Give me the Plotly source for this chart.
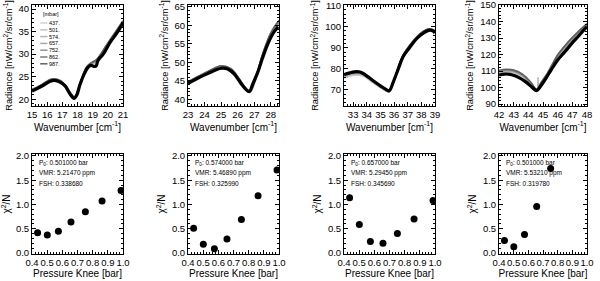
import plotly.graph_objects as go

# ---------------- data ----------------
pressures_mbar = [437, 501, 574, 657, 752, 862, 987]
pressure_labels = ["437.", "501.", "574.", "657.", "752.", "862.", "987."]
model_colors = ["#d2d2d2", "#c4c4c4", "#b6b6b6", "#a8a8a8", "#929292", "#7a7a7a", "#606060"]

# Panel 1 (15-21 cm-1)
wn1_obs = [15.0, 15.3, 15.75, 16.2, 16.5, 16.85, 17.2, 17.5, 17.77, 17.95, 18.15, 18.4, 18.65,
           18.87, 19.08, 19.22, 19.35, 19.7, 20.15, 20.6, 21.0]
rad1_obs = [21.8, 22.3, 23.1, 24.0, 24.2, 23.8, 22.9, 21.2, 20.2, 20.9, 23.1, 25.3, 26.9,
            27.5, 27.3, 27.3, 28.6, 30.0, 32.6, 34.7, 36.9]
wn1_mod = [15.0, 15.6, 16.3, 16.9, 17.4, 17.8, 18.2, 18.6, 18.95, 19.25, 20.0, 21.0]
rad1_mod = [
    [21.6, 22.6, 24.0, 23.6, 21.8, 20.4, 23.4, 26.6, 27.6, 28.3, 31.9, 36.8],
    [21.7, 22.7, 24.1, 23.7, 21.8, 20.3, 23.5, 26.7, 27.7, 28.4, 32.0, 36.9],
    [21.8, 22.8, 24.1, 23.7, 21.7, 20.3, 23.5, 26.8, 27.8, 28.4, 32.1, 37.0],
    [21.9, 22.9, 24.2, 23.8, 21.8, 20.3, 23.6, 26.9, 27.9, 28.5, 32.2, 37.1],
    [22.0, 23.0, 24.3, 23.9, 21.9, 20.4, 23.7, 27.0, 28.0, 28.6, 32.3, 37.2],
    [22.1, 23.1, 24.4, 24.0, 22.0, 20.5, 23.8, 27.1, 28.1, 28.7, 32.4, 37.3],
    [22.2, 23.2, 24.5, 24.1, 22.1, 20.6, 23.9, 27.2, 28.2, 28.8, 32.5, 37.4],
]

# Panel 2 (23-28.5 cm-1)
wn2_obs = [23.0, 23.5, 24.0, 24.5, 25.0, 25.4, 25.8, 26.2, 26.5, 26.7, 26.93, 27.23, 27.5,
           27.84, 28.14, 28.45]
rad2_obs = [44.3, 45.5, 46.6, 47.6, 48.4, 48.2, 46.8, 44.3, 42.7, 42.1, 44.3, 47.5, 51.1,
            55.1, 57.8, 59.6]
wn2_mod = [23.0, 23.6, 24.3, 25.0, 25.6, 26.1, 26.5, 26.75, 27.1, 27.5, 28.0, 28.5]
rad2_mod = [
    [44.2, 45.6, 47.2, 48.5, 47.7, 45.0, 42.6, 41.9, 45.3, 51.0, 56.8, 60.2],
    [44.3, 45.7, 47.3, 48.6, 47.8, 45.1, 42.7, 42.0, 45.4, 51.2, 57.0, 60.4],
    [44.4, 45.8, 47.4, 48.7, 47.9, 45.2, 42.7, 42.0, 45.5, 51.4, 57.2, 60.6],
    [44.5, 45.9, 47.5, 48.8, 48.0, 45.3, 42.8, 42.1, 45.6, 51.6, 57.4, 60.8],
    [44.6, 46.0, 47.6, 48.9, 48.1, 45.4, 42.8, 42.1, 45.8, 51.8, 57.6, 61.0],
    [44.7, 46.1, 47.7, 49.0, 48.2, 45.5, 42.9, 42.2, 45.9, 52.0, 57.8, 61.2],
    [44.8, 46.2, 47.8, 49.1, 48.3, 45.6, 43.0, 42.3, 46.0, 52.2, 58.0, 61.4],
]

# Panel 3 (32.3-39 cm-1)
wn3_obs = [32.34, 32.7, 33.1, 33.5, 33.86, 34.47, 35.08, 35.5, 35.65, 35.94, 36.31, 36.67,
           37.16, 37.65, 38.14, 38.63, 38.87, 39.0]
rad3_obs = [77.3, 78.0, 78.6, 78.5, 77.3, 74.4, 71.6, 69.9, 69.6, 73.7, 80.0, 85.9,
            90.3, 94.3, 97.0, 98.4, 97.9, 97.0]
wn3_mod = [32.34, 33.0, 33.7, 34.4, 35.1, 35.6, 36.0, 36.6, 37.3, 38.0, 38.6, 39.0]
rad3_mod = [
    [75.6, 76.9, 76.6, 73.6, 70.6, 69.2, 74.2, 85.2, 91.9, 96.6, 98.4, 97.6],
    [75.9, 77.2, 76.9, 73.8, 70.8, 69.3, 74.3, 85.3, 92.0, 96.7, 98.5, 97.7],
    [76.2, 77.5, 77.2, 74.0, 71.0, 69.4, 74.4, 85.4, 92.1, 96.8, 98.6, 97.8],
    [76.5, 77.8, 77.4, 74.2, 71.1, 69.5, 74.5, 85.5, 92.2, 96.9, 98.7, 97.9],
    [76.8, 78.1, 77.7, 74.4, 71.3, 69.6, 74.6, 85.6, 92.3, 97.0, 98.8, 98.0],
    [77.1, 78.4, 78.0, 74.6, 71.5, 69.7, 74.7, 85.7, 92.4, 97.1, 98.9, 98.1],
    [77.4, 78.7, 78.3, 74.8, 71.7, 69.8, 74.8, 85.8, 92.5, 97.2, 99.0, 98.2],
]

# Panel 4 (42-48 cm-1)
wn4_obs = [42.0, 42.4, 42.86, 43.33, 43.8, 44.26, 44.57, 44.85, 45.2, 45.55, 46.0, 46.5,
           46.97, 47.43, 47.9, 48.0]
rad4_obs = [107.6, 108.2, 107.8, 106.2, 103.6, 100.1, 98.1, 100.9, 105.6, 110.6, 116.7, 121.8,
            126.8, 131.3, 136.0, 136.6]
wn4_mod = [42.0, 42.5, 43.0, 43.6, 44.2, 44.5, 44.64, 44.66, 44.68, 44.8, 45.3, 46.0, 46.7, 47.4, 48.0]
rad4_mod = [
    [108.6, 109.3, 108.8, 106.4, 101.7, 98.6, 98.8, 99.0, 99.3, 101.0, 107.0, 117.5, 125.2, 131.6, 137.0],
    [108.9, 109.6, 109.1, 106.7, 101.9, 98.7, 98.9, 99.1, 99.4, 101.1, 107.3, 117.9, 125.6, 132.0, 137.3],
    [109.2, 109.9, 109.4, 107.0, 102.1, 98.8, 99.0, 106.2, 99.5, 101.3, 107.6, 118.3, 126.0, 132.4, 137.6],
    [109.5, 110.2, 109.7, 107.3, 102.3, 98.9, 99.1, 99.3, 99.6, 101.5, 107.9, 118.7, 126.4, 132.8, 137.9],
    [109.8, 110.5, 110.0, 107.6, 102.5, 99.0, 99.2, 99.4, 99.7, 101.7, 108.2, 119.1, 126.8, 133.2, 138.2],
    [110.1, 110.8, 110.3, 107.9, 102.7, 99.1, 99.3, 99.5, 99.8, 101.9, 108.5, 119.5, 127.2, 133.6, 138.5],
    [110.4, 111.1, 110.6, 108.2, 102.9, 99.2, 99.4, 99.6, 99.9, 102.1, 108.8, 119.9, 127.6, 134.0, 138.8],
]

# chi-square vs pressure knee
knee_bar = [0.437, 0.501, 0.574, 0.657, 0.752, 0.862, 0.987]
chi1 = [0.42, 0.37, 0.45, 0.64, 0.85, 1.07, 1.29]
chi2 = [0.51, 0.18, 0.09, 0.29, 0.69, 1.18, 1.71]
chi3 = [1.14, 0.59, 0.24, 0.20, 0.40, 0.70, 1.08]
chi4 = [0.26, 0.13, 0.38, 0.96, 1.74]

fit_p0 = ["0.501000", "0.574000", "0.657000", "0.501000"]
fit_vmr = ["5.21470", "5.46890", "5.29450", "5.53210"]
fit_fsh = ["0.338680", "0.325990", "0.345690", "0.319780"]

# axis settings
x_ranges_top = [[15, 21], [23, 28.5], [32.33, 39], [42, 48]]
y_ranges_top = [[18.5, 40.9], [38.2, 65.5], [62.4, 110.3], [88.8, 150.1]]
y_dticks_top = [5, 5, 10, 10]

# ---------------- figure ----------------
W, H = 600, 281
FONT = "Liberation Sans"
cols_px = [(32, 123), (188, 279), (344, 435), (499, 587)]
top_px = (5, 106)
bot_px = (154, 254)


def xn(n):
    return "x" if n == 1 else f"x{n}"


def yn(n):
    return "y" if n == 1 else f"y{n}"


fig = go.Figure()

spectra = [
    (wn1_obs, rad1_obs, wn1_mod, rad1_mod),
    (wn2_obs, rad2_obs, wn2_mod, rad2_mod),
    (wn3_obs, rad3_obs, wn3_mod, rad3_mod),
    (wn4_obs, rad4_obs, wn4_mod, rad4_mod),
]
for i, (wo, ro, wm, rm) in enumerate(spectra):
    xa, ya = xn(i + 1), yn(i + 1)
    for k, vals in enumerate(rm):
        shape = "linear" if (i == 3 and k == 2) else "spline"
        fig.add_trace(go.Scatter(x=wm, y=vals, mode="lines", xaxis=xa, yaxis=ya,
                                 line=dict(color=model_colors[k], width=1.5, shape=shape),
                                 name=f"{pressures_mbar[k]} mbar", showlegend=False))
    fig.add_trace(go.Scatter(x=wo, y=ro, mode="lines", xaxis=xa, yaxis=ya,
                             line=dict(color="black", width=3.2, shape="spline"),
                             name="observed", showlegend=False))

chis = [chi1, chi2, chi3, chi4]
for i, c in enumerate(chis):
    fig.add_trace(go.Scatter(x=knee_bar[:len(c)], y=c, mode="markers",
                             xaxis=xn(i + 5), yaxis=yn(i + 5),
                             marker=dict(color="black", size=7), showlegend=False))


def axis_common():
    return dict(showline=True, linecolor="black", linewidth=1, mirror="ticks",
                ticks="inside", ticklen=4, tickcolor="black", showgrid=False, zeroline=False,
                automargin=False,
                tickfont=dict(family=FONT, size=9.5, color="black"),
                minor=dict(ticks="inside", ticklen=2, tickcolor="black", nticks=5),
                tickangle=0)


layout = dict(width=W, height=H, margin=dict(l=0, r=0, t=0, b=0, autoexpand=False),
              template="none",
              paper_bgcolor="white", plot_bgcolor="white", showlegend=False,
              font=dict(family=FONT, color="black"))

for i in range(4):
    x0, x1 = cols_px[i]
    xd = [x0 / W, x1 / W]
    yd_top = [1 - top_px[1] / H, 1 - top_px[0] / H]
    yd_bot = [1 - bot_px[1] / H, 1 - bot_px[0] / H]
    n_top, n_bot = i + 1, i + 5
    ax = axis_common()
    ax.update(domain=xd, range=x_ranges_top[i], dtick=1, anchor=yn(n_top),
              title=dict(text="Wavenumber [cm<sup>-1</sup>]", font=dict(family=FONT, size=10),
                         standoff=0))
    layout["xaxis" if n_top == 1 else f"xaxis{n_top}"] = ax
    ay = axis_common()
    ay.update(domain=yd_top, range=y_ranges_top[i], dtick=y_dticks_top[i], anchor=xn(n_top),
              title=dict(text="Radiance [nW/cm<sup>2</sup>/sr/cm<sup>-1</sup>]",
                         font=dict(family=FONT, size=9.3), standoff=4))
    layout["yaxis" if n_top == 1 else f"yaxis{n_top}"] = ay
    bx = axis_common()
    bx.update(domain=xd, range=[0.4, 1.0], dtick=0.1, tickformat=".1f", anchor=yn(n_bot),
              title=dict(text="Pressure Knee [bar]", font=dict(family=FONT, size=10), standoff=0))
    layout[f"xaxis{n_bot}"] = bx
    by = axis_common()
    by.update(domain=yd_bot, range=[-0.02, 2.04], dtick=0.5, tickformat=".1f", anchor=xn(n_bot),
              title=dict(text="χ<sup>2</sup>/N", font=dict(family=FONT, size=10), standoff=4))
    layout[f"yaxis{n_bot}"] = by

fig.update_layout(**layout)

# fit parameter annotations
for i in range(4):
    lines = [f"P<sub>0</sub>: {fit_p0[i]} bar", f"VMR: {fit_vmr[i]} ppm", f"FSH: {fit_fsh[i]}"]
    for j, t in enumerate(lines):
        fig.add_annotation(text=t, xref=f"{xn(i + 5)} domain", yref=f"{yn(i + 5)} domain",
                           x=0.06, y=0.91 - 0.10 * j, xanchor="left", yanchor="middle",
                           showarrow=False, font=dict(family=FONT, size=6.5, color="black"))

# legend for model pressures (panel 1)
fig.add_annotation(text="[mbar]", xref="x domain", yref="y domain", x=0.10,
                   y=(top_px[1] - 14) / (top_px[1] - top_px[0]), xanchor="left", yanchor="middle",
                   showarrow=False, font=dict(family=FONT, size=5.5, color="black"))
for k, lab in enumerate(pressure_labels):
    yy = (top_px[1] - (23 + 6.8 * k)) / (top_px[1] - top_px[0])
    fig.add_shape(type="line", xref="x domain", yref="y domain", x0=0.09, x1=0.17, y0=yy, y1=yy,
                  line=dict(color=model_colors[k], width=1.5))
    fig.add_annotation(text=lab, xref="x domain", yref="y domain", x=0.33, y=yy,
                       xanchor="right", yanchor="middle", showarrow=False,
                       font=dict(family=FONT, size=5.5, color="black"))

fig.write_html("out.html", post_script="document.body.style.margin='0px';",
               config={"displayModeBar": False})
